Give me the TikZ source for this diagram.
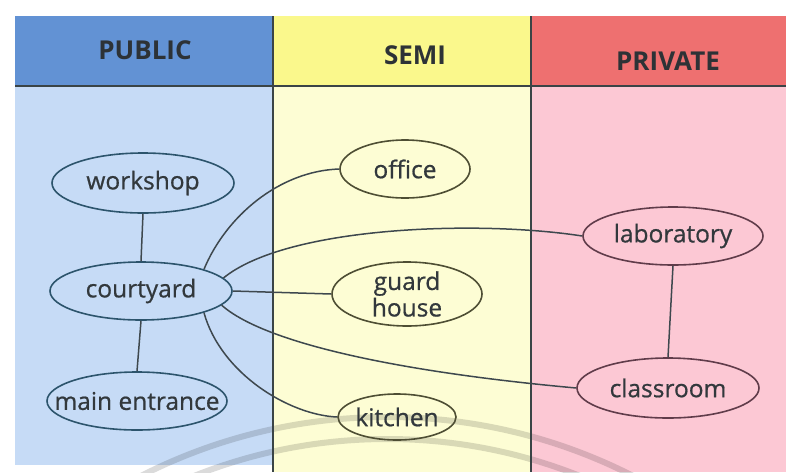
\documentclass[tikz,border=0pt]{standalone}
\usepackage{fontspec}
\setmainfont{Open Sans}
\newfontfamily\nodefont{Open Sans}[FakeBold=0.7]
\usetikzlibrary{shapes.geometric}
\definecolor{pubH}{RGB}{98,146,212}
\definecolor{pubB}{RGB}{198,219,246}
\definecolor{semH}{RGB}{250,248,140}
\definecolor{semB}{RGB}{253,253,212}
\definecolor{priH}{RGB}{238,112,112}
\definecolor{priB}{RGB}{252,200,212}
\definecolor{pubL}{RGB}{44,84,108}
\definecolor{semL}{RGB}{78,78,52}
\definecolor{priL}{RGB}{96,60,74}
\definecolor{edgeC}{RGB}{62,72,78}
\definecolor{txtC}{RGB}{50,56,60}
\definecolor{divC}{RGB}{58,68,70}
\tikzset{
  oval/.style={ellipse, draw, line width=1.6pt, inner sep=0pt},
  lbl/.style={font=\nodefont\fontsize{24.5}{26.5}\selectfont, text=txtC, align=center, inner sep=0pt},
  head/.style={font=\fontsize{26}{28}\selectfont\bfseries, text=txtC!90!black, inner sep=0pt},
  link/.style={draw=edgeC, line width=1.5pt},
  divider/.style={draw=divC, line width=1.6pt}
}
\begin{document}
\begin{tikzpicture}[x=1pt,y=-1pt]
\useasboundingbox (0,0) rectangle (786,472);
\fill[white] (0,0) rectangle (786,472);
% panels
\fill[pubH] (15,16) rectangle (273,86);
\fill[pubB] (15,86) rectangle (273,465);
\fill[semH] (273,16) rectangle (531,86);
\fill[semB] (273,86) rectangle (531,472);
\fill[priH] (531,16) rectangle (786,86);
\fill[priB] (531,86) rectangle (786,472);
% faint watermark arcs
\begin{scope}
  \clip (0,400) rectangle (786,472);
  \draw[black, opacity=0.14, line width=6pt] (387,959) circle (542);
  \draw[black, opacity=0.14, line width=6pt] (387,959) circle (520);
\end{scope}
% dividers
\draw[divider] (15,86) -- (786,86);
\draw[divider] (273,16) -- (273,472);
\draw[divider] (531,16) -- (531,472);
% headers
\node[head] (hpub) at (145,50) {PUBLIC};
\node[head] (hsem) at (415,55) {SEMI};
\node[head] (hpri) at (668,61) {PRIVATE};
% nodes
\node[oval, draw=pubL, minimum width=182pt, minimum height=60pt, label={[lbl]center:workshop}] (ws) at (143,183) {};
\node[oval, draw=pubL, minimum width=182pt, minimum height=58pt, label={[lbl]center:courtyard}] (cy) at (141,291) {};
\node[oval, draw=pubL, minimum width=180pt, minimum height=58pt, label={[lbl]center:main entrance}] (me) at (137,401) {};
\node[oval, draw=semL, minimum width=130pt, minimum height=58pt, label={[lbl]center:office}] (of) at (405,169) {};
\node[oval, draw=semL, minimum width=150pt, minimum height=64pt, label={[lbl]center:guard\\house}] (gh) at (407,294) {};
\node[oval, draw=semL, minimum width=118pt, minimum height=46pt, label={[lbl]center:kitchen}] (kt) at (397,417) {};
\node[oval, draw=priL, minimum width=180pt, minimum height=58pt, label={[lbl]center:laboratory}] (lab) at (673,236) {};
\node[oval, draw=priL, minimum width=182pt, minimum height=60pt, label={[lbl]center:classroom}] (cl) at (668,388) {};
% connectors
\draw[link] (ws.south) -- (cy.north);
\draw[link] (cy.south) -- (me.north);
\draw[link] (lab.south) -- (cl.north);
\draw[link] (cy.east) -- (gh.west);
\draw[link] (cy.19) .. controls +(22,-53) and +(-60,2) .. (of.west);
\draw[link] (cy.9) .. controls +(64,-52) and +(-103,-16) .. (lab.west);
\draw[link] (cy.-10) .. controls +(43,38) and +(-177,-16) .. (cl.west);
\draw[link] (cy.-19) .. controls +(17,61) and +(-48,-2) .. (kt.west);
\end{tikzpicture}
\end{document}
